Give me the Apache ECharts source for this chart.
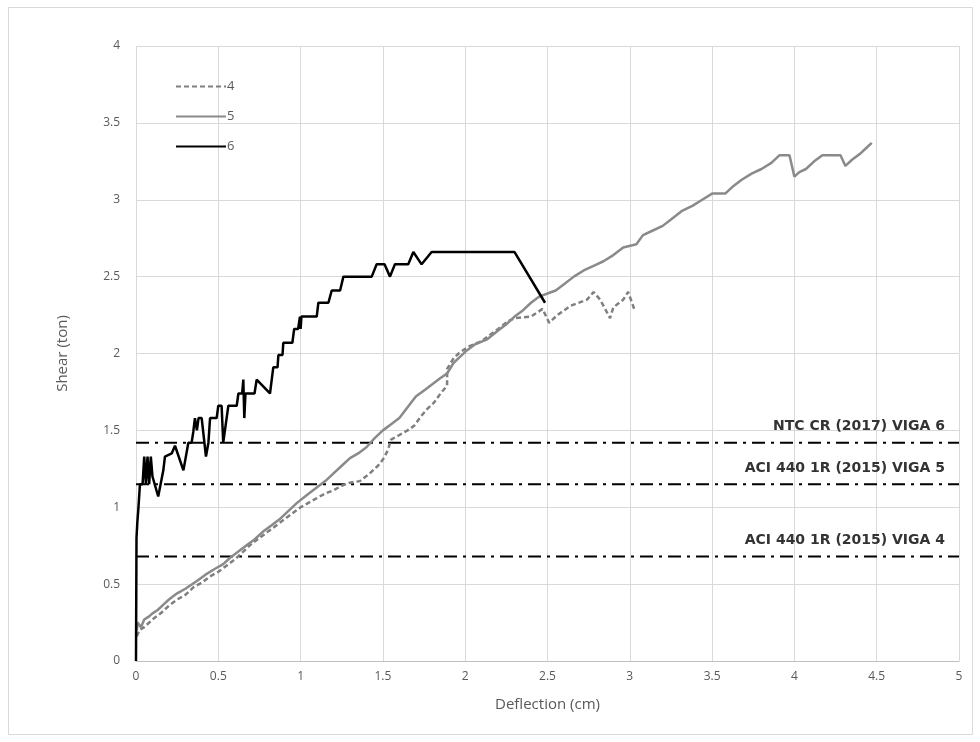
<!DOCTYPE html>
<html>
<head>
    <meta charset="UTF-8">
    <title>Shear vs Deflection</title>
    <script src="https://cdn.jsdelivr.net/npm/echarts@6/dist/echarts.min.js"></script>
    <style>
        html, body { margin: 0; padding: 0; background: #fff; }
        #main { width: 980px; height: 742px; }
    </style>
</head>
<body>
    <div id="main"></div>
    <script>
        // curve 4 (dashed grey): [deflection cm, shear ton]
        var viga4 = [[0.005,0.16],[0.02,0.2],[0.05,0.22],[0.1,0.27],[0.15,0.31],[0.2,0.36],[0.25,0.4],[0.3,0.43],[0.35,0.48],
            [0.4,0.51],[0.45,0.55],[0.5,0.58],[0.55,0.62],[0.6,0.66],[0.65,0.71],[0.7,0.76],[0.75,0.8],[0.8,0.84],[0.85,0.88],
            [0.9,0.92],[0.95,0.96],[1.0,1.0],[1.05,1.03],[1.1,1.06],[1.15,1.09],[1.2,1.11],[1.25,1.14],[1.3,1.16],[1.36,1.17],
            [1.42,1.22],[1.47,1.27],[1.5,1.31],[1.53,1.37],[1.55,1.44],[1.6,1.47],[1.65,1.5],[1.69,1.53],[1.73,1.59],[1.77,1.64],
            [1.81,1.68],[1.85,1.74],[1.89,1.79],[1.89,1.9],[1.93,1.97],[1.97,2.01],[2.03,2.05],[2.1,2.08],[2.15,2.12],[2.2,2.16],
            [2.26,2.21],[2.3,2.23],[2.4,2.24],[2.47,2.29],[2.51,2.2],[2.56,2.25],[2.64,2.31],[2.74,2.35],[2.78,2.4],[2.82,2.35],
            [2.86,2.27],[2.88,2.23],[2.9,2.3],[2.96,2.35],[2.99,2.4],[3.03,2.28]];

        // curve 5 (solid grey)
        var viga5 = [[0.005,0.2],[0.01,0.25],[0.03,0.22],[0.05,0.27],[0.08,0.29],[0.1,0.31],[0.13,0.33],[0.17,0.37],[0.2,0.4],
            [0.25,0.44],[0.3,0.47],[0.37,0.52],[0.42,0.56],[0.48,0.6],[0.53,0.63],[0.57,0.67],[0.62,0.71],[0.68,0.76],[0.72,0.79],
            [0.77,0.84],[0.82,0.88],[0.87,0.92],[0.92,0.97],[0.98,1.03],[1.05,1.09],[1.1,1.13],[1.15,1.17],[1.2,1.22],[1.25,1.27],
            [1.3,1.32],[1.35,1.35],[1.4,1.39],[1.45,1.45],[1.5,1.5],[1.55,1.54],[1.6,1.58],[1.65,1.65],[1.7,1.72],[1.75,1.76],
            [1.8,1.8],[1.85,1.84],[1.89,1.87],[1.93,1.94],[1.97,1.98],[2.01,2.02],[2.06,2.06],[2.13,2.09],[2.2,2.15],[2.25,2.19],
            [2.3,2.24],[2.35,2.28],[2.4,2.33],[2.45,2.37],[2.5,2.39],[2.55,2.41],[2.6,2.45],[2.66,2.5],[2.72,2.54],[2.78,2.57],
            [2.84,2.6],[2.9,2.64],[2.96,2.69],[3.04,2.71],[3.08,2.77],[3.14,2.8],[3.2,2.83],[3.26,2.88],[3.32,2.93],[3.38,2.96],
            [3.44,3.0],[3.5,3.04],[3.58,3.04],[3.63,3.09],[3.68,3.13],[3.74,3.17],[3.8,3.2],[3.86,3.24],[3.91,3.29],[3.97,3.29],
            [4.0,3.15],[4.03,3.18],[4.07,3.2],[4.12,3.25],[4.17,3.29],[4.28,3.29],[4.31,3.22],[4.35,3.26],[4.4,3.3],[4.43,3.33],
            [4.47,3.37]];

        // curve 6 (black)
        var viga6 = [[0,0],[0.003,0.8],[0.008,0.9],[0.015,1.0],[0.024,1.15],[0.04,1.15],[0.05,1.33],[0.06,1.15],[0.07,1.33],
            [0.08,1.15],[0.09,1.33],[0.1,1.2],[0.135,1.07],[0.166,1.24],[0.176,1.33],[0.217,1.35],[0.237,1.4],[0.288,1.24],
            [0.318,1.42],[0.338,1.42],[0.348,1.49],[0.358,1.58],[0.37,1.5],[0.38,1.58],[0.399,1.58],[0.425,1.33],[0.44,1.42],
            [0.45,1.58],[0.49,1.58],[0.5,1.66],[0.52,1.66],[0.53,1.42],[0.561,1.66],[0.612,1.66],[0.622,1.74],[0.645,1.74],
            [0.652,1.83],[0.658,1.58],[0.665,1.74],[0.72,1.74],[0.733,1.83],[0.814,1.74],[0.834,1.91],[0.86,1.91],[0.865,1.99],
            [0.89,1.99],[0.895,2.07],[0.95,2.07],[0.961,2.16],[0.985,2.16],[0.996,2.24],[1.0,2.16],[1.005,2.24],[1.098,2.24],
            [1.108,2.33],[1.169,2.33],[1.189,2.41],[1.24,2.41],[1.26,2.5],[1.432,2.5],[1.462,2.58],[1.51,2.58],[1.543,2.5],
            [1.573,2.58],[1.654,2.58],[1.685,2.66],[1.735,2.58],[1.796,2.66],[2.3,2.66],[2.485,2.33]];

        // design limits (horizontal dash-dot lines)
        var limitNames = ['NTC CR (2017) VIGA 6', 'ACI 440 1R (2015) VIGA 5', 'ACI 440 1R (2015) VIGA 4'];
        var limitValues = [1.42, 1.15, 0.68];

        var myChart = echarts.init(document.getElementById('main'));
        var labelColor = '#595959';
        var font = 'Open Sans, Noto Sans, sans-serif';

        var limitSeries = limitNames.map(function (name, i) {
            return {
                name: name,
                type: 'line',
                data: [[0, limitValues[i]], [5, limitValues[i]]],
                symbol: 'none',
                silent: true,
                lineStyle: { color: '#000', width: 2, type: [13, 6, 3, 6] },
                endLabel: {
                    show: true,
                    formatter: name,
                    position: 'insideEndTop',
                    offset: [-22, -16],
                    align: 'right',
                    color: '#333333',
                    fontFamily: 'DejaVu Sans, sans-serif',
                    fontWeight: 'bold',
                    fontSize: 14
                }
            };
        });

        var option = {
            animation: false,
            graphic: [{
                type: 'rect',
                shape: { x: 8.5, y: 7.5, width: 964, height: 727 },
                style: { fill: 'none', stroke: '#d9d9d9', lineWidth: 1 }
            }],
            grid: { left: 136, right: 21, top: 46, bottom: 81 },
            legend: {
                data: ['4', '5', '6'],
                orient: 'vertical',
                left: 170,
                top: 75,
                itemWidth: 50,
                itemHeight: 14,
                itemGap: 17,
                itemStyle: { opacity: 0 },
                textStyle: { color: labelColor, fontFamily: font, fontSize: 13, padding: [0, 0, 0, -4] }
            },
            xAxis: {
                type: 'value',
                min: 0, max: 5, interval: 0.5,
                name: 'Deflection (cm)',
                nameLocation: 'middle',
                nameGap: 36,
                nameTextStyle: { color: labelColor, fontFamily: font, fontSize: 15 },
                axisLine: { show: true, onZero: false, lineStyle: { color: '#bfbfbf' } },
                axisTick: { show: false },
                axisLabel: { color: labelColor, fontFamily: font, fontSize: 12, margin: 10 },
                splitLine: { show: true, lineStyle: { color: '#d9d9d9' } }
            },
            yAxis: {
                type: 'value',
                min: 0, max: 4, interval: 0.5,
                name: 'Shear (ton)',
                nameLocation: 'middle',
                nameGap: 66,
                nameTextStyle: { color: labelColor, fontFamily: font, fontSize: 15 },
                axisLine: { show: false },
                axisTick: { show: false },
                axisLabel: { color: labelColor, fontFamily: font, fontSize: 12, margin: 16 },
                splitLine: { show: true, lineStyle: { color: '#d9d9d9' } }
            },
            series: limitSeries.concat([
                {
                    name: '4',
                    type: 'line',
                    data: viga4,
                    symbol: 'none',
                    lineStyle: { color: '#7f7f7f', width: 2.5, type: [5, 3] },
                    itemStyle: { color: '#7f7f7f' }
                },
                {
                    name: '5',
                    type: 'line',
                    data: viga5,
                    symbol: 'none',
                    lineStyle: { color: '#8a8a8a', width: 2.5 },
                    itemStyle: { color: '#8a8a8a' }
                },
                {
                    name: '6',
                    type: 'line',
                    data: viga6,
                    symbol: 'none',
                    lineStyle: { color: '#000', width: 2.5 },
                    itemStyle: { color: '#000' }
                }
            ])
        };

        myChart.setOption(option);
    </script>
</body>
</html>
